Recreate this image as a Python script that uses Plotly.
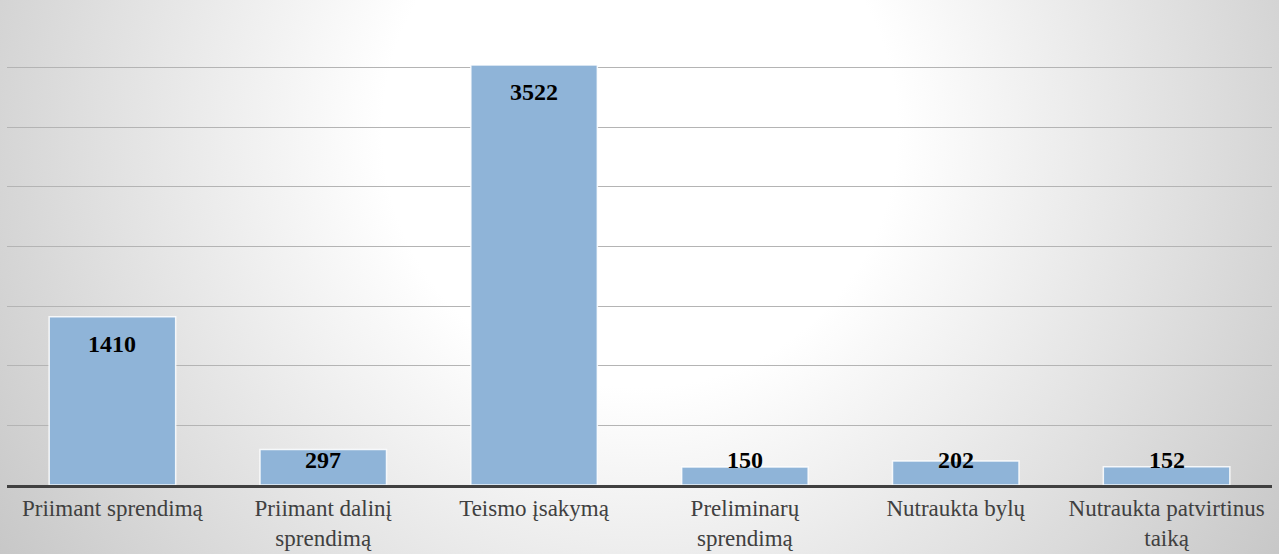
import plotly.graph_objects as go

categories = ["Priimant sprendimą", "Priimant dalinį<br>sprendimą", "Teismo įsakymą",
              "Preliminarų<br>sprendimą", "Nutraukta bylų", "Nutraukta patvirtinus<br>taiką"]
values = [1410, 297, 3522, 150, 202, 152]
y_max = 4000
y_step = 500

W, H = 1279, 554
ML, MR, MT, MB = 7, 7, 8, 69
PW, PH = W - ML - MR, H - MT - MB

svg = ("data:image/svg+xml;utf8,"
       "<svg xmlns='http://www.w3.org/2000/svg' width='1279' height='554' preserveAspectRatio='none'>"
       "<defs><radialGradient id='g' gradientUnits='userSpaceOnUse' cx='640' cy='130' r='780'>"
       "<stop offset='0' stop-color='%23ffffff'/><stop offset='0.33' stop-color='%23ffffff'/>"
       "<stop offset='1' stop-color='%23c6c6c6'/></radialGradient></defs>"
       "<rect width='1279' height='554' fill='url(%23g)'/></svg>")

fig = go.Figure()
fig.add_trace(go.Bar(
    x=categories, y=values,
    marker=dict(color="#8FB4D8", line=dict(color="rgba(255,255,255,0.85)", width=1.5)),
    hoverinfo="x+y",
))

# data labels: inside end, clamped so small bars keep label just above baseline area
for c, v in zip(categories, values):
    fig.add_annotation(x=c, y=max(v - 227, 210), text=f"<b>{v}</b>", showarrow=False,
                       yanchor="middle", xanchor="center",
                       font=dict(family="Liberation Serif", size=24, color="#000000"))

fig.add_layout_image(dict(source=svg, xref="paper", yref="paper",
                          x=-ML / PW, y=1 + MT / PH, sizex=W / PW, sizey=H / PH,
                          xanchor="left", yanchor="top", sizing="stretch", layer="below"))

fig.update_layout(
    width=W, height=H,
    margin=dict(l=ML, r=MR, t=MT, b=MB, autoexpand=False),
    paper_bgcolor="#d8d8d8",
    plot_bgcolor="rgba(0,0,0,0)",
    bargap=0.4,
    showlegend=False,
    font=dict(family="Liberation Serif", size=24, color="#404040"),
    xaxis=dict(showline=True, linecolor="#404040", linewidth=3, ticks="",
               tickfont=dict(family="Liberation Serif", size=23, color="#404040"),
               showgrid=False, range=[-0.5, 5.5], automargin=False),
    yaxis=dict(range=[0, y_max], dtick=y_step, showticklabels=False, showgrid=True,
               gridcolor="#b4b4b4", gridwidth=1, zeroline=False, showline=False,
               automargin=False),
)

fig.write_html("out.html", config={"displayModeBar": False},
               post_script="document.body.style.margin='0';")
